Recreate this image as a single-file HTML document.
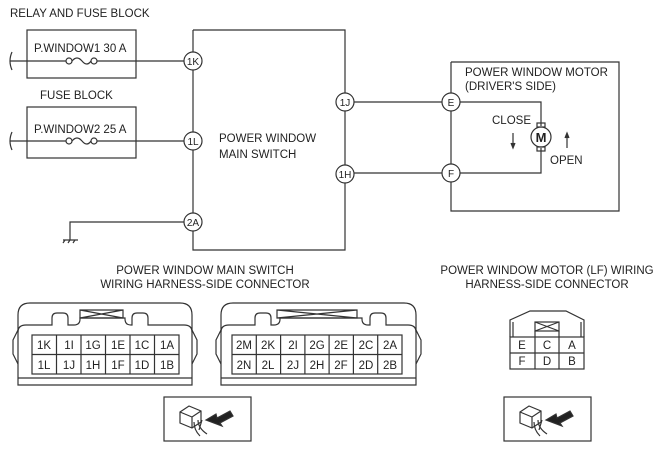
<!DOCTYPE html><html><head><style>body{margin:0;background:#fff}svg{display:block}text{font-family:"Liberation Sans",sans-serif;fill:#222}</style></head><body>
<svg width="668" height="454" viewBox="0 0 668 454" xmlns="http://www.w3.org/2000/svg" stroke="#333" fill="none" stroke-width="1.2">
<g stroke="none" font-size="11.5">
<text x="10" y="17">RELAY AND FUSE BLOCK</text>
<text x="40" y="99">FUSE BLOCK</text>
<text x="34" y="52">P.WINDOW1 30 A</text>
<text x="34" y="133">P.WINDOW2 25 A</text>
<text x="219" y="142">POWER WINDOW</text>
<text x="219" y="158">MAIN SWITCH</text>
<text x="465" y="76">POWER WINDOW MOTOR</text>
<text x="465" y="90">(DRIVER'S SIDE)</text>
<text x="492" y="124">CLOSE</text>
<text x="550" y="164">OPEN</text>
<text x="205" y="274" text-anchor="middle">POWER WINDOW MAIN SWITCH</text>
<text x="205" y="288" text-anchor="middle">WIRING HARNESS-SIDE CONNECTOR</text>
<text x="547" y="274" text-anchor="middle">POWER WINDOW MOTOR (LF) WIRING</text>
<text x="547" y="288" text-anchor="middle">HARNESS-SIDE CONNECTOR</text>
</g>
<rect x="27" y="30" width="109" height="48"/>
<rect x="27" y="107" width="109" height="51"/>
<path d="M12 52q-4 9 0 18M12 132q-4 9 0 18"/>
<path d="M10 61H66M97 61H184M10 141H66M97 141H184"/>
<circle cx="69" cy="61" r="3"/><circle cx="94" cy="61" r="3"/><path d="M72 61q5-6 10 0t9 0"/>
<circle cx="69" cy="141" r="3"/><circle cx="94" cy="141" r="3"/><path d="M72 141q5-6 10 0t9 0"/>
<path d="M193 30H345V93M345 111V165M345 183V250H193V231M193 213V150M193 132V70M193 52V30"/>
<path d="M184 222H70V240M63 240H78M65 240l-2 3M70 240l-2 3M75 240l-2 3"/>
<path d="M354 102H442M354 173H442"/>
<path d="M451 62H619V211H451V182M451 164V111M451 93V62"/>
<path d="M460 102H541V126M460 173H541V148"/>
<rect x="537" y="123" width="8" height="4"/><rect x="537" y="147" width="8" height="4"/>
<circle cx="541" cy="137" r="10"/>
<text x="541" y="142" font-size="13" font-weight="bold" text-anchor="middle" stroke="none">M</text>
<path d="M513 133V147M567 134V148"/><path d="M511 143l2 5 2-5M565 138l2-5 2 5" fill="#333"/>
<g fill="#fff" stroke-width="1.2">
<circle cx="193" cy="61" r="9"/><circle cx="193" cy="141" r="9"/><circle cx="193" cy="222" r="9"/>
<circle cx="345" cy="102" r="9"/><circle cx="345" cy="174" r="9"/>
<circle cx="451" cy="102" r="9"/><circle cx="451" cy="173" r="9"/>
</g>
<g stroke="none" font-size="10" text-anchor="middle">
<text x="193" y="65">1K</text><text x="193" y="145">1L</text><text x="193" y="226">2A</text>
<text x="345" y="106">1J</text><text x="345" y="178">1H</text>
<text x="451" y="106">E</text><text x="451" y="177">F</text>
</g>
<!-- connector 1 -->
<path d="M30 303H180Q192 303 192 315V385H18V315Q18 303 30 303Z"/>
<path d="M18 332Q18 325 26 325H52V318Q52 313 57 313H63Q68 313 68 318V325H74Q80 325 80 319V318H125V319Q125 325 131 325H132V318Q132 313 137 313H143Q148 313 148 318V325H184Q192 325 192 332"/>
<path d="M80 310H123V318H80ZM80 310L123 318M123 310L80 318"/>
<path d="M18 330l-5 10v14l5 10M192 330l5 10v14l-5 10"/>
<rect x="32" y="335" width="147" height="39"/><path d="M32 354.5H179"/>
<path d="M56.5 335v39M81 335v39M105.5 335v39M130 335v39M154.5 335v39"/>
<path d="M18 378H192"/>
<g stroke="none" font-size="11.5" text-anchor="middle">
<text x="44" y="349">1K</text><text x="69" y="349">1I</text><text x="93" y="349">1G</text><text x="118" y="349">1E</text><text x="142" y="349">1C</text><text x="167" y="349">1A</text>
<text x="44" y="369">1L</text><text x="69" y="369">1J</text><text x="93" y="369">1H</text><text x="118" y="369">1F</text><text x="142" y="369">1D</text><text x="167" y="369">1B</text>
</g>
<!-- connector 2 -->
<path d="M233 303H404Q416 303 416 315V385H221V315Q221 303 233 303Z"/>
<path d="M221 332Q221 325 229 325H255V318Q255 313 260 313H266Q271 313 271 318V325H274Q280 325 280 319V318H362V319Q362 325 368 325H370V318Q370 313 375 313H381Q386 313 386 318V325H408Q416 325 416 332"/>
<path d="M277 310H357V318H277ZM277 310L357 318M357 310L277 318"/>
<path d="M221 330l-5 10v14l5 10M416 330l5 10v14l-5 10"/>
<rect x="232" y="335" width="170" height="39"/><path d="M232 354.5H402"/>
<path d="M256.3 335v39M280.6 335v39M304.9 335v39M329.1 335v39M353.4 335v39M377.7 335v39"/>
<path d="M221 378H416"/>
<g stroke="none" font-size="11.5" text-anchor="middle">
<text x="244" y="349">2M</text><text x="268" y="349">2K</text><text x="293" y="349">2I</text><text x="317" y="349">2G</text><text x="341" y="349">2E</text><text x="366" y="349">2C</text><text x="390" y="349">2A</text>
<text x="244" y="369">2N</text><text x="268" y="369">2L</text><text x="293" y="369">2J</text><text x="317" y="369">2H</text><text x="341" y="369">2F</text><text x="366" y="369">2D</text><text x="390" y="369">2B</text>
</g>
<!-- motor connector -->
<path d="M510 337V320L530 311H566L584 320V337"/>
<path d="M513 337V322M581 337V322"/>
<rect x="535" y="322" width="24" height="9"/><path d="M535 322L559 331M559 322L535 331M535 331V337M559 331V337"/>
<rect x="510" y="337" width="74" height="32"/><path d="M510 353H584M535 337V369M559 337V369"/>
<g stroke="none" font-size="11.5" text-anchor="middle">
<text x="522" y="349">E</text><text x="547" y="349">C</text><text x="572" y="349">A</text>
<text x="522" y="365">F</text><text x="547" y="365">D</text><text x="572" y="365">B</text>
</g>
<!-- key boxes -->
<g id="k">
<rect x="164" y="397" width="87" height="44"/>
<path d="M180 412l9-6 12 5v11l-9 6-12-5z M180 412l12 5 9-6M192 417v11"/>
<path d="M194 422q0 8 6 14M198 420q0 8 9 14M202 420l-3 10"/>
<path d="M206 420l10-6 1 4 13-7 3 5-13 7 2 3z" fill="#222"/>
</g>
<use href="#k" x="340"/>
</svg>
</body></html>
